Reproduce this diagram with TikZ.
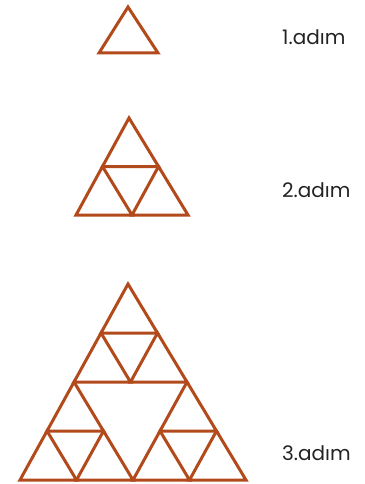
\documentclass[tikz,border=0pt]{standalone}
\usepackage{fontspec}
\setmainfont{Poppins}
\usetikzlibrary{calc}
\definecolor{tribrown}{RGB}{178,74,28}
\definecolor{labelgray}{RGB}{35,35,35}
\tikzset{
  tri/.style={draw=tribrown, line width=3pt, line join=miter},
  steplabel/.style={text=labelgray, font=\fontsize{20}{22}\selectfont, inner sep=0pt, anchor=west}
}
\newcommand\mytri[3]{\draw[tri] (#1) -- (#2) -- (#3) -- cycle;}
\begin{document}
\begin{tikzpicture}[x=1pt,y=-1pt]
\useasboundingbox (0,0) rectangle (364,484);
% step 1
\coordinate (a1) at (128,7);
\coordinate (l1) at (99,53);
\coordinate (r1) at (158,53);
\mytri{a1}{l1}{r1}
% step 2
\coordinate (a2) at (129,118);
\coordinate (l2) at (76,215);
\coordinate (r2) at (188,215);
\coordinate (m2al) at ($(a2)!0.5!(l2)$);
\coordinate (m2ar) at ($(a2)!0.5!(r2)$);
\coordinate (m2lr) at ($(l2)!0.5!(r2)$);
\mytri{a2}{m2al}{m2ar}
\mytri{m2al}{l2}{m2lr}
\mytri{m2ar}{m2lr}{r2}
% step 3
\coordinate (a3) at (128,284);
\coordinate (l3) at (20,480);
\coordinate (r3) at (246,480);
\coordinate (p) at ($(a3)!0.5!(l3)$);
\coordinate (q) at ($(a3)!0.5!(r3)$);
\coordinate (s) at ($(l3)!0.5!(r3)$);
% top corner
\coordinate (t1) at ($(a3)!0.5!(p)$);
\coordinate (t2) at ($(a3)!0.5!(q)$);
\coordinate (t3) at ($(p)!0.5!(q)$);
\mytri{a3}{t1}{t2}
\mytri{t1}{p}{t3}
\mytri{t2}{t3}{q}
% left corner
\coordinate (u1) at ($(p)!0.5!(l3)$);
\coordinate (u2) at ($(p)!0.5!(s)$);
\coordinate (u3) at ($(l3)!0.5!(s)$);
\mytri{p}{u1}{u2}
\mytri{u1}{l3}{u3}
\mytri{u2}{u3}{s}
% right corner
\coordinate (v1) at ($(q)!0.5!(s)$);
\coordinate (v2) at ($(q)!0.5!(r3)$);
\coordinate (v3) at ($(s)!0.5!(r3)$);
\mytri{q}{v1}{v2}
\mytri{v1}{s}{v3}
\mytri{v2}{v3}{r3}
% labels
\node[steplabel] (lab1) at (282,37) {1.adım};
\node[steplabel] (lab2) at (282,190) {2.adım};
\node[steplabel] (lab3) at (282,453) {3.adım};
\end{tikzpicture}
\end{document}
